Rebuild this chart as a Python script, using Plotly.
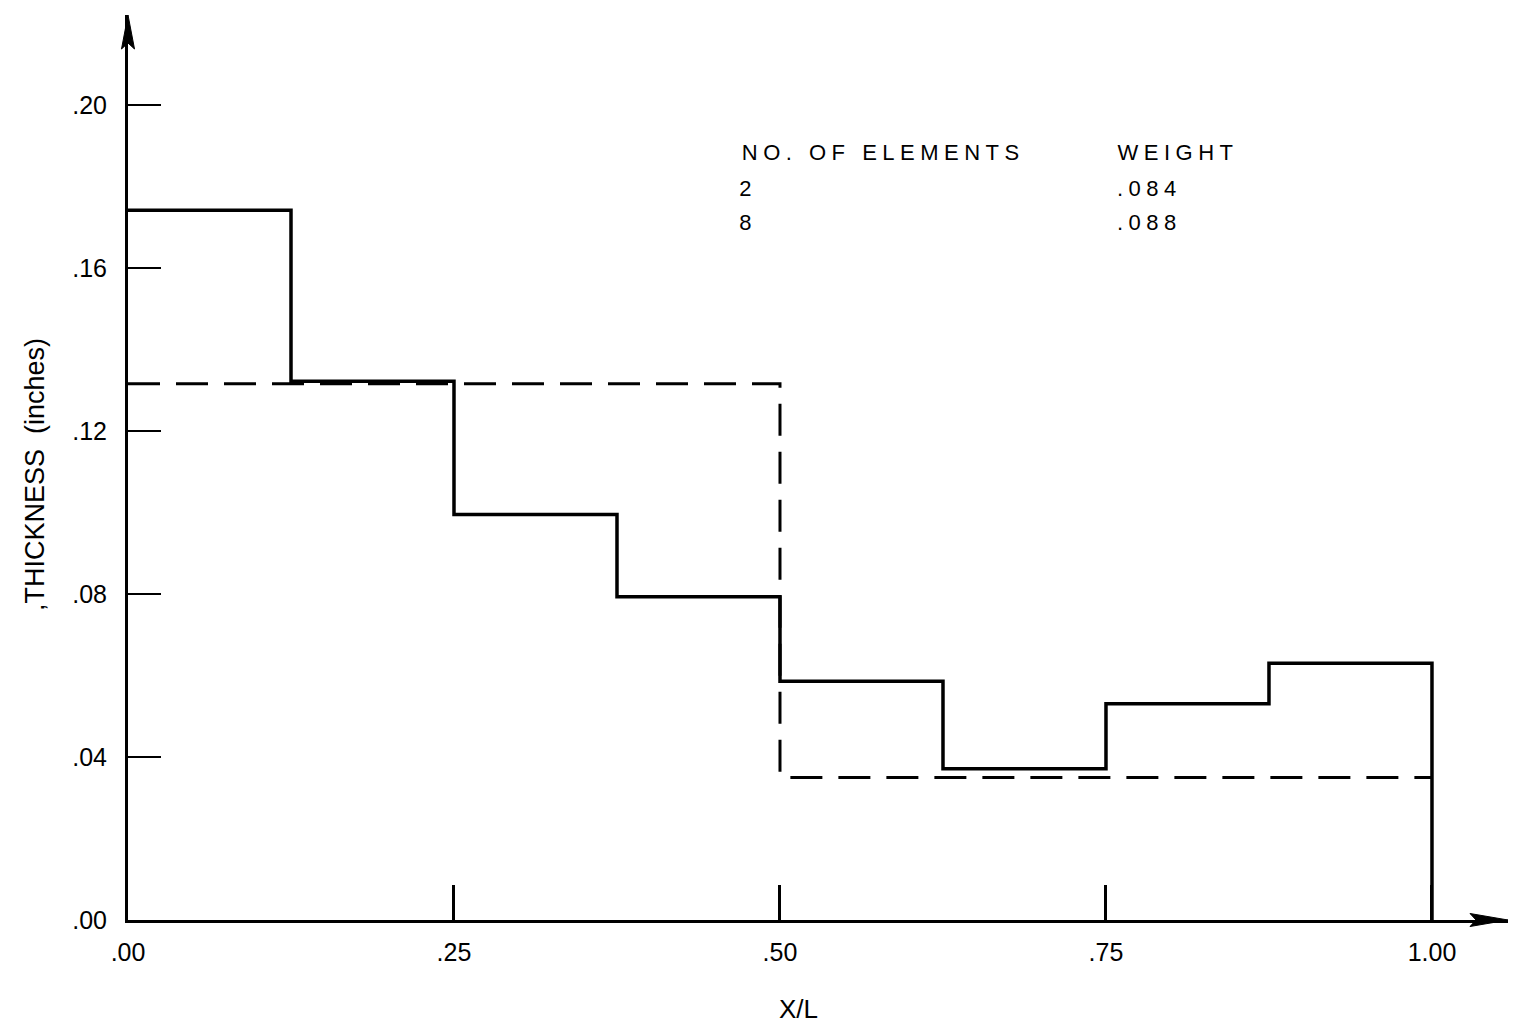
import plotly.graph_objects as go

# ---- data -------------------------------------------------------------
# 8-element optimum: thickness of each element (inches) over X/L
elem8_edges = [0.0, 0.125, 0.25, 0.375, 0.5, 0.625, 0.75, 0.875, 1.0]
elem8_thick = [0.1742, 0.1322, 0.0995, 0.0793, 0.0586, 0.0371, 0.0531, 0.0630]

# 2-element optimum
elem2_edges = [0.0, 0.5, 1.0]
elem2_thick = [0.1316, 0.0350]

# table shown on the chart
table_header = ["NO. OF ELEMENTS", "WEIGHT"]
table_elements = ["2", "8"]
table_weights = [".084", ".088"]

x_tickvals = [0.0, 0.25, 0.5, 0.75, 1.0]
x_ticktext = [".00", ".25", ".50", ".75", "1.00"]
y_tickvals = [0.0, 0.04, 0.08, 0.12, 0.16, 0.20]
y_ticktext = [".00", ".04", ".08", ".12", ".16", ".20"]

# ---- geometry ---------------------------------------------------------
W, H = 1513, 1028
ML, MR, MT, MB = 128, 5, 15, 108
PW, PH = W - ML - MR, H - MT - MB
X_MAX = 1.0583
Y_MAX = 0.2221


def paper_x(px):
    """pixel column -> paper x"""
    return (px - ML) / PW


def paper_y(py):
    """pixel row -> paper y"""
    return (H - MB - py) / PH


FONT = "Liberation Sans, Arial, Helvetica, sans-serif"


def step_xy(edges, vals, drop_to_zero=False):
    xs = list(edges[:-1]) + [edges[-1]]
    ys = list(vals) + [vals[-1]]
    if drop_to_zero:
        xs.append(edges[-1])
        ys.append(0.0)
    return xs, ys


fig = go.Figure()

sx, sy = step_xy(elem8_edges, elem8_thick, drop_to_zero=True)
fig.add_trace(go.Scatter(
    x=sx, y=sy, mode="lines", line_shape="hv",
    line=dict(color="black", width=3.5), name="8 elements",
    showlegend=False, hoverinfo="skip",
))

dx, dy = step_xy(elem2_edges, elem2_thick)
fig.add_trace(go.Scatter(
    x=dx, y=dy, mode="lines", line_shape="hv",
    line=dict(color="black", width=3, dash="32px,16px"), name="2 elements",
    showlegend=False, hoverinfo="skip",
))

# arrowheads at the ends of both axes (paper coordinates, pixel sizes)
ax0, ay0 = paper_x(ML), paper_y(H - MB)          # origin
ytip = paper_y(MT)
xtip = paper_x(W - MR)
ah_len, ah_half, ah_notch = 34 / PH, 6.5 / PW, 6 / PH
y_arrow = (f"M {ax0},{ytip} L {ax0-ah_half},{ytip-ah_len} "
           f"L {ax0},{ytip-ah_len+ah_notch} L {ax0+ah_half},{ytip-ah_len} Z")
bx_len, bx_half, bx_notch = 38 / PW, 6.5 / PH, 6 / PW
x_arrow = (f"M {xtip},{ay0} L {xtip-bx_len},{ay0+bx_half} "
           f"L {xtip-bx_len+bx_notch},{ay0} L {xtip-bx_len},{ay0-bx_half} Z")
shapes = [
    dict(type="path", path=y_arrow, xref="paper", yref="paper",
         fillcolor="black", line=dict(color="black", width=1)),
    dict(type="path", path=x_arrow, xref="paper", yref="paper",
         fillcolor="black", line=dict(color="black", width=1)),
]

tab_font = dict(family=FONT, size=22, color="black")
# centres of the two table columns per row (letter-spaced text)
head_cx = [883, 1178]
num_cx = [748, 1149]
row_py = [152, 188, 222]

annotations = []
for j, txt in enumerate(table_header):
    annotations.append(dict(x=paper_x(head_cx[j]), y=paper_y(row_py[0]), text=txt,
                            xref="paper", yref="paper", xanchor="center",
                            yanchor="middle", showarrow=False, font=tab_font))
for i in range(len(table_elements)):
    annotations.append(dict(x=paper_x(num_cx[0]), y=paper_y(row_py[i + 1]),
                            text=table_elements[i], xref="paper", yref="paper",
                            xanchor="center", yanchor="middle",
                            showarrow=False, font=tab_font))
    annotations.append(dict(x=paper_x(num_cx[1]), y=paper_y(row_py[i + 1]),
                            text=table_weights[i], xref="paper", yref="paper",
                            xanchor="center", yanchor="middle",
                            showarrow=False, font=tab_font))
n_table = len(annotations)

# axis titles
annotations.append(dict(x=paper_x(798), y=paper_y(1009), text="X/L",
                        xref="paper", yref="paper", xanchor="center", yanchor="middle",
                        showarrow=False, font=dict(family=FONT, size=26, color="black")))
annotations.append(dict(x=paper_x(35), y=paper_y(475),
                        text=",THICKNESS  (inches)", textangle=-90,
                        xref="paper", yref="paper", xanchor="center", yanchor="middle",
                        showarrow=False, font=dict(family=FONT, size=27, color="black")))

fig.update_layout(
    width=W, height=H,
    margin=dict(l=ML, r=MR, t=MT, b=MB),
    paper_bgcolor="white", plot_bgcolor="white",
    shapes=shapes, annotations=annotations,
    xaxis=dict(range=[0, X_MAX], showgrid=False, zeroline=False,
               showline=True, linecolor="black", linewidth=3,
               tickmode="array", tickvals=x_tickvals, ticktext=x_ticktext,
               ticks="inside", ticklen=35, tickwidth=2.5, tickcolor="black",
               ticklabelstandoff=8,
               tickfont=dict(family=FONT, size=25, color="black")),
    yaxis=dict(range=[0, Y_MAX], showgrid=False, zeroline=False,
               showline=True, linecolor="black", linewidth=3,
               tickmode="array", tickvals=y_tickvals, ticktext=y_ticktext,
               ticks="inside", ticklen=33, tickwidth=2, tickcolor="black",
               ticklabelstandoff=13,
               tickfont=dict(family=FONT, size=25, color="black")),
)

# spaced lettering for the table text
sel = ", ".join(f'.annotation[data-index="{k}"] .annotation-text' for k in range(n_table))
post = (
    "var s=document.createElement('style');"
    f"s.textContent='{sel} {{letter-spacing:5.5px;}}';"
    "document.head.appendChild(s);"
)

fig.write_html("out.html", post_script=post)
